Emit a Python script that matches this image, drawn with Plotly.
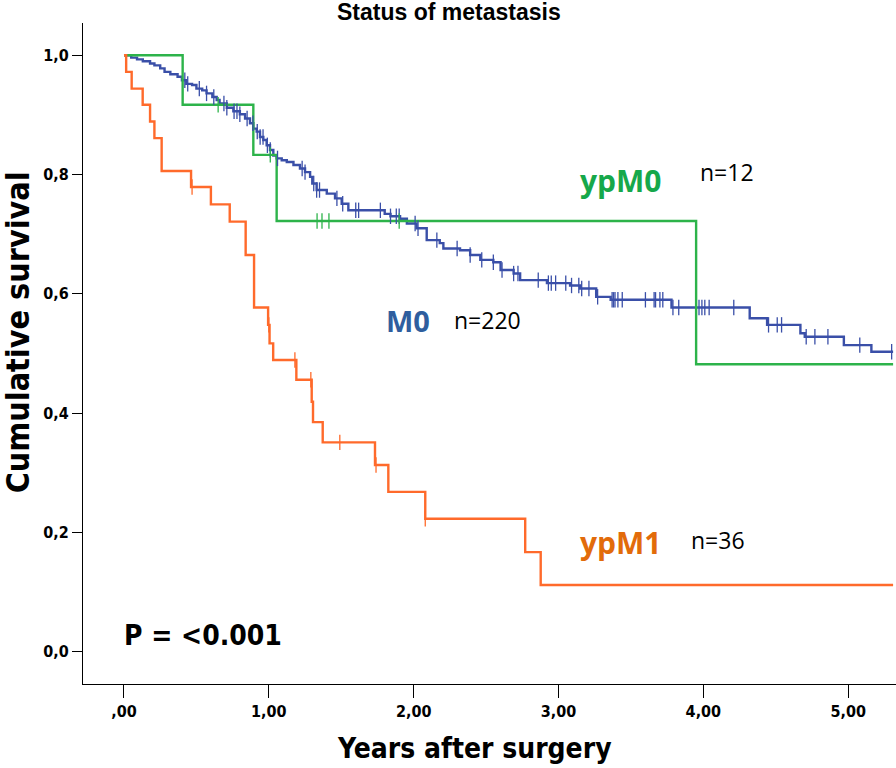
import plotly.graph_objects as go
import bisect

# ---------------- data ----------------
# Kaplan-Meier steps: time (years) and survival after the step
m0_times = [0, 0.05, 0.09, 0.13, 0.18, 0.21, 0.25, 0.28, 0.32, 0.37, 0.40, 0.43, 0.47, 0.50,
            0.54, 0.57, 0.61, 0.64, 0.66, 0.71, 0.755, 0.80, 0.836, 0.87, 0.893, 0.916, 0.939,
            0.962, 0.985, 1.008, 1.031, 1.054, 1.089, 1.124, 1.17, 1.215, 1.25, 1.285, 1.30,
            1.33, 1.40, 1.457, 1.503, 1.549, 1.80, 1.84, 1.906, 1.953, 2.02, 2.09, 2.18, 2.205,
            2.32, 2.39, 2.46, 2.55, 2.60, 2.69, 2.735, 2.92, 3.08, 3.15, 3.26, 3.36, 3.78, 4.32,
            4.44, 4.67, 4.70, 4.97, 5.16, 5.31]
m0_surv = [1.0, 0.996, 0.993, 0.990, 0.986, 0.983, 0.978, 0.972, 0.968, 0.964, 0.958, 0.952, 0.950, 0.944,
           0.941, 0.936, 0.930, 0.925, 0.919, 0.912, 0.906, 0.901, 0.894, 0.886, 0.877, 0.872, 0.863,
           0.858, 0.849, 0.841, 0.832, 0.827, 0.824, 0.821, 0.816, 0.810, 0.804, 0.796, 0.785,
           0.774, 0.768, 0.760, 0.751, 0.740, 0.734, 0.730, 0.726, 0.718, 0.710, 0.690, 0.685, 0.676,
           0.673, 0.665, 0.657, 0.653, 0.640, 0.634, 0.623, 0.618, 0.614, 0.609, 0.595, 0.590, 0.577, 0.559,
           0.548, 0.534, 0.528, 0.514, 0.503, 0.503]
m0_censor = [0.42, 0.44, 0.52, 0.57, 0.62, 0.69, 0.71, 0.76, 0.78, 0.80, 0.85, 0.89, 0.92, 0.94,
             0.96, 0.99, 1.01, 1.06, 1.23, 1.25, 1.31, 1.33, 1.35, 1.47, 1.51, 1.60, 1.62, 1.77,
             1.84, 1.88, 1.90, 2.01, 2.03, 2.16, 2.30, 2.39, 2.47, 2.55, 2.61, 2.69, 2.72, 2.86,
             2.93, 2.95, 2.98, 3.05, 3.09, 3.14, 3.16, 3.21, 3.27, 3.37, 3.38, 3.39, 3.41, 3.44,
             3.60, 3.66, 3.67, 3.70, 3.72, 3.79, 3.83, 3.97, 3.99, 4.01, 4.04, 4.21, 4.45, 4.51,
             4.54, 4.71, 4.77, 4.86, 5.08, 5.30]

ypm0_times = [0, 0.405, 0.893, 1.054, 3.95, 5.31]
ypm0_surv = [1.0, 0.917, 0.833, 0.722, 0.482, 0.482]
ypm0_censor = [0.65, 1.01, 1.333, 1.367, 1.415, 1.90]

ypm1_times = [0, 0.015, 0.053, 0.129, 0.18, 0.21, 0.26, 0.463, 0.60, 0.73, 0.84, 0.898, 0.995, 1.005,
              1.03, 1.19, 1.296, 1.305, 1.372, 1.733, 1.825, 2.08, 2.77, 2.877, 5.31]
ypm1_surv = [1.0, 0.972, 0.944, 0.917, 0.889, 0.861, 0.806, 0.779, 0.750, 0.721, 0.665, 0.577, 0.548, 0.517,
             0.489, 0.456, 0.419, 0.385, 0.351, 0.313, 0.268, 0.223, 0.167, 0.112, 0.112]
ypm1_censor = [0.47, 1.0, 1.18, 1.29, 1.49, 1.74, 2.08]

x_tickvals = [0, 1, 2, 3, 4, 5]
x_ticktext = [",00", "1,00", "2,00", "3,00", "4,00", "5,00"]
y_tickvals = [0, 0.2, 0.4, 0.6, 0.8, 1.0]
y_ticktext = ["0,0", "0,2", "0,4", "0,6", "0,8", "1,0"]

series = [
    ("M0", m0_times, m0_surv, m0_censor, "#3A4FA8"),
    ("ypM0", ypm0_times, ypm0_surv, ypm0_censor, "#2DB34A"),
    ("ypM1", ypm1_times, ypm1_surv, ypm1_censor, "#FF6A2B"),
]


def step_value(times, surv, t):
    i = bisect.bisect_right(times, t) - 1
    return surv[max(i, 0)]


fig = go.Figure()
for name, t, s, c, col in series:
    fig.add_trace(go.Scatter(x=t, y=s, mode="lines", line=dict(color=col, width=2.4, shape="hv"),
                             name=name, showlegend=False, hoverinfo="skip"))
for name, t, s, c, col in series:
    fig.add_trace(go.Scatter(x=c, y=[step_value(t, s, v) for v in c], mode="markers",
                             marker=dict(symbol="line-ns", size=11, line=dict(color=col, width=1.3)),
                             showlegend=False, hoverinfo="skip"))

narrow = "Liberation Sans Narrow, DejaVu Sans Condensed, Arial Narrow, sans-serif"
calib = "Open Sans, Lato, Noto Sans, sans-serif"

fig.update_layout(
    width=896, height=768,
    margin=dict(l=83, r=0, t=23, b=84),
    paper_bgcolor="white", plot_bgcolor="white",
    title=dict(text="<b>Status of metastasis</b>", x=0.501, xanchor="center", y=1 - 12 / 768,
               yanchor="middle", font=dict(family="Liberation Sans, Arial, sans-serif", size=23, color="black")),
    xaxis=dict(range=[-0.283, 5.33], tickvals=x_tickvals, ticktext=x_ticktext, ticks="outside",
               ticklen=13, tickwidth=1.2, tickcolor="black", showline=True, linecolor="black",
               linewidth=1.2, showgrid=False, zeroline=False,
               tickfont=dict(family=narrow, size=16, color="black", weight="bold")),
    yaxis=dict(range=[-0.054, 1.054], tickvals=y_tickvals, ticktext=y_ticktext, ticks="outside",
               ticklen=10, tickwidth=1.2, tickcolor="black", showline=True, linecolor="black",
               linewidth=1.2, showgrid=False, zeroline=False,
               tickfont=dict(family=narrow, size=16, color="black", weight="bold")),
)

annotations = [
    dict(text="Years after surgery", xref="paper", yref="paper", x=0.482, y=-0.097,
         font=dict(family=narrow, size=28, color="black", weight="bold")),
    dict(text="Cumulative survival", xref="paper", yref="paper", x=-0.08, y=0.532, textangle=-90,
         font=dict(family=narrow, size=32, color="black", weight="bold")),
    dict(text="ypM0", x=3.43, y=0.79, font=dict(family=calib, size=30, color="#16A84A", weight="bold")),
    dict(text="n=12", x=4.16, y=0.804, font=dict(family=calib, size=23, color="black")),
    dict(text="M0", x=1.96, y=0.556, font=dict(family=calib, size=29, color="#2F5E9E", weight="bold")),
    dict(text="n=220", x=2.51, y=0.556, font=dict(family=calib, size=23, color="black")),
    dict(text="ypM1", x=3.43, y=0.184, font=dict(family=calib, size=30, color="#E26B0A", weight="bold")),
    dict(text="n=36", x=4.10, y=0.188, font=dict(family=calib, size=23, color="black")),
    dict(text="P = <0.001", x=-0.014, y=0.027, xanchor="left",
         font=dict(family=narrow, size=28, color="black", weight="bold")),
]
for a in annotations:
    a.setdefault("xref", "x")
    a.setdefault("yref", "y")
    a.setdefault("xanchor", "center")
    a.setdefault("yanchor", "middle")
    a["showarrow"] = False
    fig.add_annotation(**a)

fig.write_html("out.html", config={"displayModeBar": False},
               post_script="document.body.style.margin='0';document.body.style.padding='0';")
